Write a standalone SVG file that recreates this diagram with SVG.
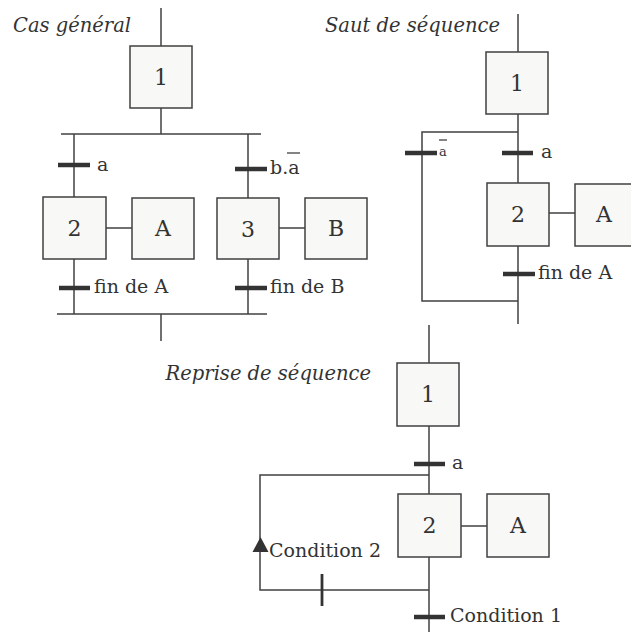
<svg xmlns="http://www.w3.org/2000/svg" width="631" height="632" viewBox="0 0 631 632">
  <style>
    .ln { stroke: #404040; stroke-width: 1.5; fill: none; }
    .bar { stroke: #333333; stroke-width: 4.5; }
    .tick { stroke: #333333; stroke-width: 2.8; }
    .box { fill: #f8f8f6; stroke: #404040; stroke-width: 1.5; }
    .t { font-family: "DejaVu Serif", "Liberation Serif", serif; font-size: 19px; fill: #333333; }
    .ti { font-family: "DejaVu Serif", "Liberation Serif", serif; font-style: italic; font-size: 19.5px; fill: #333333; }
    .lbl { font-family: "DejaVu Serif", "Liberation Serif", serif; font-size: 22px; fill: #333333; text-anchor: middle; dominant-baseline: central; }
  </style>

  <!-- Titles -->
  <text class="ti" x="13" y="32">Cas général</text>
  <text class="ti" x="325" y="32">Saut de séquence</text>
  <text class="ti" x="371" y="380" text-anchor="end">Reprise de séquence</text>

  <!-- Connectors -->
  <g id="connectors">
    <!-- Cas général -->
    <line class="ln" x1="161" y1="8" x2="161" y2="46"/>
    <line class="ln" x1="161" y1="108" x2="161" y2="134"/>
    <line class="ln" x1="61" y1="134" x2="261" y2="134"/>
    <line class="ln" x1="74" y1="134" x2="74" y2="197"/>
    <line class="ln" x1="248" y1="134" x2="248" y2="198"/>
    <line class="ln" x1="106" y1="228" x2="132" y2="228"/>
    <line class="ln" x1="279" y1="228" x2="305" y2="228"/>
    <line class="ln" x1="74" y1="259" x2="74" y2="314"/>
    <line class="ln" x1="248" y1="259" x2="248" y2="314"/>
    <line class="ln" x1="57" y1="314" x2="267" y2="314"/>
    <line class="ln" x1="161" y1="314" x2="161" y2="341"/>
    <line class="bar" x1="58" y1="165" x2="90" y2="165"/>
    <line class="bar" x1="235" y1="169" x2="267" y2="169"/>
    <line class="bar" x1="59" y1="288" x2="90" y2="288"/>
    <line class="bar" x1="235" y1="288" x2="267" y2="288"/>

    <!-- Saut de séquence -->
    <line class="ln" x1="518" y1="14" x2="518" y2="52"/>
    <line class="ln" x1="518" y1="114" x2="518" y2="183"/>
    <polyline class="ln" points="518,132 422,132 422,301 518,301"/>
    <line class="ln" x1="518" y1="246" x2="518" y2="324"/>
    <line class="ln" x1="549" y1="213" x2="575" y2="213"/>
    <line class="bar" x1="502" y1="153" x2="533" y2="153"/>
    <line class="bar" x1="405" y1="153" x2="437" y2="153"/>
    <line class="bar" x1="503" y1="274" x2="535" y2="274"/>

    <!-- Reprise de séquence -->
    <line class="ln" x1="429" y1="325" x2="429" y2="363"/>
    <line class="ln" x1="429" y1="426" x2="429" y2="494"/>
    <polyline class="ln" points="429,475 260,475 260,590 429,590"/>
    <line class="ln" x1="429" y1="557" x2="429" y2="632"/>
    <line class="ln" x1="461" y1="526" x2="487" y2="526"/>
    <line class="bar" x1="414" y1="464" x2="445" y2="464"/>
    <line class="bar" x1="414" y1="617" x2="445" y2="617"/>
    <line class="tick" x1="322" y1="574" x2="322" y2="606"/>
    <polygon points="252.5,552 260.5,537 268.5,552" fill="#333333"/>
  </g>

  <!-- Transition labels -->
  <text class="t" x="97" y="171">a</text>
  <text class="t" x="270" y="174">b.a</text>
  <line x1="287" y1="153" x2="300" y2="153" stroke="#333333" stroke-width="1.2"/>
  <text class="t" x="94" y="293">fin de A</text>
  <text class="t" x="270" y="293">fin de B</text>
  <text class="t" x="541" y="158">a</text>
  <text class="t" x="439" y="156" style="font-size:13px">a</text>
  <line x1="439" y1="140" x2="447" y2="140" stroke="#333333" stroke-width="1.2"/>
  <text class="t" x="538" y="279">fin de A</text>
  <text class="t" x="452" y="469">a</text>
  <text class="t" x="269" y="557">Condition 2</text>
  <text class="t" x="450" y="622">Condition 1</text>

  <!-- Cas général steps -->
  <g id="g-step1">
    <rect class="box" x="130" y="46" width="62" height="62"/>
    <text class="lbl" x="161" y="77">1</text>
  </g>
  <g id="g-step2">
    <rect class="box" x="43" y="197" width="63" height="62"/>
    <text class="lbl" x="74.5" y="228">2</text>
  </g>
  <g id="g-actionA">
    <rect class="box" x="132" y="198" width="62" height="61"/>
    <text class="lbl" x="163" y="228">A</text>
  </g>
  <g id="g-step3">
    <rect class="box" x="217" y="198" width="62" height="61"/>
    <text class="lbl" x="248" y="229">3</text>
  </g>
  <g id="g-actionB">
    <rect class="box" x="305" y="198" width="62" height="61"/>
    <text class="lbl" x="336" y="228">B</text>
  </g>

  <!-- Saut de séquence steps -->
  <g id="s-step1">
    <rect class="box" x="486" y="52" width="62" height="62"/>
    <text class="lbl" x="517" y="83">1</text>
  </g>
  <g id="s-step2">
    <rect class="box" x="487" y="183" width="62" height="63"/>
    <text class="lbl" x="518" y="214">2</text>
  </g>
  <g id="s-actionA">
    <rect class="box" x="575" y="184" width="62" height="62"/>
    <text class="lbl" x="604" y="214">A</text>
  </g>

  <!-- Reprise de séquence steps -->
  <g id="r-step1">
    <rect class="box" x="397" y="363" width="62" height="63"/>
    <text class="lbl" x="428" y="394">1</text>
  </g>
  <g id="r-step2">
    <rect class="box" x="398" y="494" width="63" height="63"/>
    <text class="lbl" x="429.5" y="525">2</text>
  </g>
  <g id="r-actionA">
    <rect class="box" x="487" y="494" width="62" height="63"/>
    <text class="lbl" x="518" y="525">A</text>
  </g>
</svg>
